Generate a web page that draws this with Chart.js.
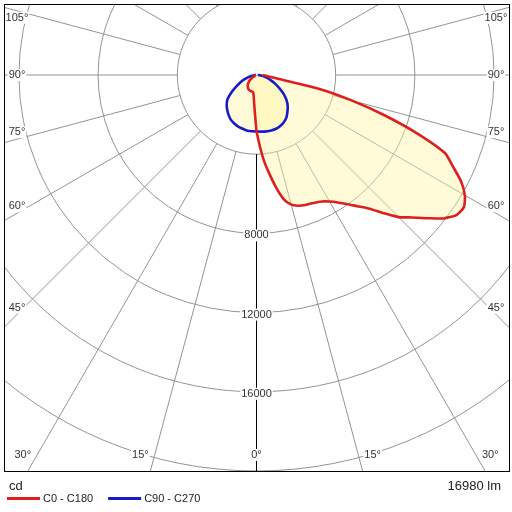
<!DOCTYPE html>
<html>
<head>
<meta charset="utf-8">
<script src="https://cdn.jsdelivr.net/npm/chart.js@4/dist/chart.umd.min.js"></script>
<style>
  html, body { margin: 0; padding: 0; background: #fff; }
  #wrap { width: 512px; height: 512px; }
</style>
</head>
<body>
<div id="wrap"><canvas id="ldc" width="512" height="512"></canvas></div>
<script>
// gamma angles (degrees from nadir) and intensities in cd
const gammaC0C180 = [0, 2.5, 5, 7.5, 10, 12.5, 15, 17.5, 20, 22.5, 25, 27.5, 30, 32.5, 35, 37.5, 40, 42.5,
    45, 47.5, 50, 52.5, 55, 57.5, 60, 62.5, 65, 67.5, 70, 72.5, 75, 77.5, 80, 82.5, 85, 87.5, 90];
const c0Values = [2850, 3550, 4350, 5050, 5800, 6450, 6780, 6920, 7000, 7040, 7100, 7200, 7380, 7630, 7950, 8350, 8800, 9450,
    10150, 10650, 11250, 11900, 12330, 12420, 12150, 11650, 10950, 10300, 8650, 6800, 5000, 3300, 1150, 660, 470, 370, 300];
const c180Values = [2850, 1900, 1400, 1080, 920, 880, 870, 865, 860, 855, 850, 840, 820, 790, 760, 720, 690, 640,
    590, 530, 480, 410, 330, 240, 160, 110, 80, 60, 50, 45, 40, 35, 30, 25, 20, 15, 10];

const gammaC90C270 = [0, 5, 10, 15, 20, 25, 30, 35, 40, 45, 50, 55, 60, 65, 70, 75, 80, 85, 90];
const c90Values = [2850, 2870, 2890, 2900, 2890, 2840, 2760, 2630, 2430, 2230, 1980, 1680, 1330, 1030, 760, 530, 330, 170, 60];
const c270Values = [2850, 2850, 2840, 2800, 2760, 2690, 2600, 2460, 2300, 2130, 1920, 1560, 1200, 920, 680, 450, 270, 120, 30];

const seriesLabels = ['C0 - C180', 'C90 - C270'];
const circleValues = [4000, 8000, 12000, 16000, 20000, 24000];
const intensityTicks = [8000, 12000, 16000];
const angleTicks = [0, 15, 30, 45, 60, 75, 90, 105];
const unitText = 'cd';
const fluxText = '16980 lm';

// frame of the diagram on the canvas
const BOX = { left: 4, top: 4, right: 509, bottom: 471 };
const CENTER_Y = 75;
const R_BOTTOM = 20000;
const PX_PER_CD = (BOX.bottom - CENTER_Y) / R_BOTTOM;
const CENTER_X = (BOX.left + BOX.right) / 2;
const FONT = '"Liberation Sans", Arial, sans-serif';

const RED = '#dd1f1f';
const BLUE = '#1a1acb';
const FILL = 'rgba(255, 246, 165, 0.42)';

const toRad = (deg) => deg * Math.PI / 180;

// one plane: negative side first (from 90 down to 0), then positive side (0 up to 90)
function planePoints(gammas, negValues, posValues) {
    const pts = [];
    for (let i = gammas.length - 1; i >= 0; i--) {
        const a = toRad(gammas[i]);
        pts.push({ x: -negValues[i] * Math.sin(a), y: -negValues[i] * Math.cos(a) });
    }
    for (let i = 0; i < gammas.length; i++) {
        const a = toRad(gammas[i]);
        pts.push({ x: posValues[i] * Math.sin(a), y: -posValues[i] * Math.cos(a) });
    }
    return pts;
}

const redPoints = planePoints(gammaC0C180, c180Values, c0Values);
const bluePoints = planePoints(gammaC90C270, c270Values, c90Values);

const polarGrid = {
    id: 'polarGrid',
    beforeDatasetsDraw(chart) {
        const { ctx, chartArea, scales: { x, y } } = chart;
        const cx = x.getPixelForValue(0);
        const cy = y.getPixelForValue(0);
        const rad = (v) => x.getPixelForValue(v) - cx;

        ctx.save();
        ctx.beginPath();
        ctx.rect(chartArea.left, chartArea.top, chartArea.right - chartArea.left, chartArea.bottom - chartArea.top);
        ctx.clip();
        ctx.lineWidth = 1;
        ctx.strokeStyle = '#939393';

        circleValues.forEach((v) => {
            ctx.beginPath();
            ctx.arc(cx, cy, rad(v), 0, Math.PI * 2);
            ctx.stroke();
        });

        const r0 = rad(circleValues[0]);
        const r1 = rad(40000);
        for (let g = 0; g <= 180; g += 15) {
            [-1, 1].forEach((side) => {
                const a = toRad(g);
                const dx = side * Math.sin(a);
                const dy = Math.cos(a);
                ctx.strokeStyle = g === 0 ? '#000' : '#939393';
                ctx.beginPath();
                ctx.moveTo(cx + dx * r0, cy + dy * r0);
                ctx.lineTo(cx + dx * r1, cy + dy * r1);
                ctx.stroke();
            });
        }
        ctx.restore();
    },
    afterDatasetsDraw(chart) {
        const { ctx, scales: { x, y } } = chart;
        const cx = x.getPixelForValue(0);
        const cy = y.getPixelForValue(0);
        const rad = (v) => x.getPixelForValue(v) - cx;

        ctx.save();
        ctx.font = '11px ' + FONT;
        ctx.textAlign = 'center';
        ctx.textBaseline = 'middle';

        const label = (text, px, py) => {
            const w = ctx.measureText(text).width;
            ctx.fillStyle = '#fff';
            ctx.fillRect(px - w / 2 - 1, py - 6, w + 2, 12);
            ctx.fillStyle = '#333';
            ctx.fillText(text, px, py);
        };

        intensityTicks.forEach((v) => label(String(v), cx, cy + rad(v) + 2));

        const insetX = cx - (BOX.left + 13);
        const insetY = (BOX.bottom - 16) - cy;
        angleTicks.forEach((g) => {
            const sides = g === 0 ? [1] : [-1, 1];
            sides.forEach((side) => {
                const a = toRad(g);
                const s = Math.sin(a);
                const c = Math.cos(a);
                const text = g + '°';
                const w = ctx.measureText(text).width;
                const tx = s > 0 ? insetX / s : Infinity;
                const ty = c > 0 ? insetY / c : Infinity;
                let px, py;
                if (tx < ty) {
                    px = cx + side * insetX;
                    py = cy + tx * c;
                    if (g < 90) py -= 7;
                    if (g > 90) py += 7;
                } else {
                    px = g === 0 ? cx : cx + side * (ty * s + w / 2 + 6);
                    py = cy + insetY;
                }
                label(text, px, py);
            });
        });
        ctx.restore();
    },
    afterDraw(chart) {
        const { ctx } = chart;
        ctx.save();
        ctx.strokeStyle = '#000';
        ctx.lineWidth = 1;
        ctx.strokeRect(BOX.left + 0.5, BOX.top + 0.5, BOX.right - BOX.left, BOX.bottom - BOX.top);

        ctx.fillStyle = '#222';
        ctx.font = '13px ' + FONT;
        ctx.textBaseline = 'middle';
        ctx.textAlign = 'left';
        ctx.fillText(unitText, 9, 486);
        ctx.textAlign = 'right';
        ctx.fillText(fluxText, 501, 486);

        // legend from the line datasets
        ctx.font = '11px ' + FONT;
        ctx.textAlign = 'left';
        let lx = 7;
        chart.data.datasets.filter((ds) => ds.label).sort((a, b) => b.order - a.order).reverse().forEach((ds) => {
            ctx.strokeStyle = ds.borderColor;
            ctx.lineWidth = 3;
            ctx.beginPath();
            ctx.moveTo(lx, 498.5);
            ctx.lineTo(lx + 33, 498.5);
            ctx.stroke();
            ctx.fillStyle = '#222';
            ctx.fillText(ds.label, lx + 36, 499);
            lx += 36 + ctx.measureText(ds.label).width + 15;
        });
        ctx.restore();
    }
};

const fillSet = (points) => ({
    data: points,
    showLine: true,
    borderWidth: 0,
    borderColor: 'rgba(0,0,0,0)',
    backgroundColor: FILL,
    fill: 'shape',
    tension: 0.2,
    pointRadius: 0,
    order: 3
});

new Chart(document.getElementById('ldc'), {
    type: 'scatter',
    data: {
        datasets: [{
            label: seriesLabels[0],
            data: redPoints,
            showLine: true,
            borderColor: RED,
            borderWidth: 2.6,
            fill: false,
            tension: 0.2,
            pointRadius: 0,
            order: 1
        }, {
            label: seriesLabels[1],
            data: bluePoints,
            showLine: true,
            borderColor: BLUE,
            borderWidth: 2.6,
            fill: false,
            tension: 0.3,
            pointRadius: 0,
            order: 2
        },
        fillSet(redPoints),
        fillSet(bluePoints)]
    },
    options: {
        responsive: false,
        devicePixelRatio: 1,
        animation: false,
        layout: {
            padding: { left: BOX.left, top: BOX.top, right: 512 - BOX.right, bottom: 512 - BOX.bottom }
        },
        scales: {
            x: {
                type: 'linear',
                display: false,
                min: -(CENTER_X - BOX.left) / PX_PER_CD,
                max: (BOX.right - CENTER_X) / PX_PER_CD
            },
            y: {
                type: 'linear',
                display: false,
                min: -R_BOTTOM,
                max: (CENTER_Y - BOX.top) / PX_PER_CD
            }
        },
        plugins: {
            legend: { display: false },
            tooltip: { enabled: false }
        }
    },
    plugins: [polarGrid]
});
</script>
</body>
</html>
